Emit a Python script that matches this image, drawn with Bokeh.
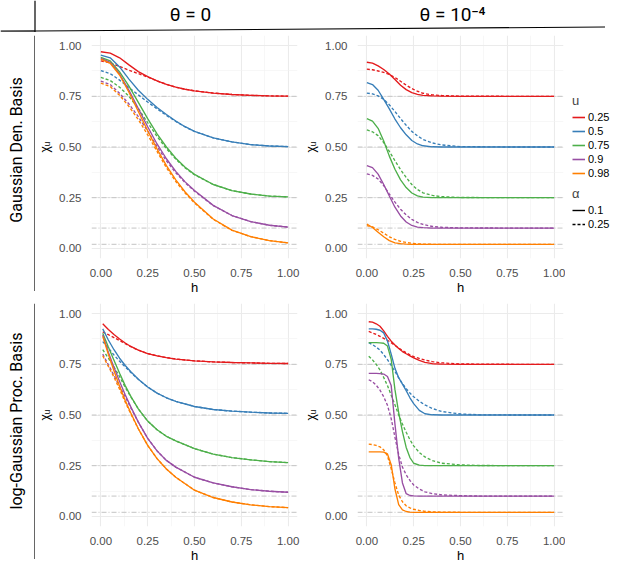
import numpy as np
from bokeh.plotting import figure
from bokeh.layouts import row, column
from bokeh.models import (Range1d, FixedTicker, NumeralTickFormatter, Span,
                          Legend, LegendItem)
from bokeh.core.properties import value
from bokeh.embed import file_html
from bokeh.resources import INLINE

# ---------------- data ----------------
u_labels = ["0.25", "0.5", "0.75", "0.9", "0.98"]
alpha_labels = ["0.1", "0.25"]
u_colors = ["#E41A1C", "#377EB8", "#4DAF4A", "#984EA3", "#FF7F00"]
ref_levels = [0.75, 0.5, 0.25, 0.1, 0.02]
col_titles = ["θ = 0", "θ = 10⁻⁴"]
row_titles = ["Gaussian Den. Basis", "log-Gaussian Proc. Basis"]
axis_ticks = [0, 0.25, 0.5, 0.75, 1.0]
axis_minor = [0.125, 0.375, 0.625, 0.875]

# Gaussian density basis, theta = 0
gd0_h = [0.0, 0.05, 0.1, 0.15, 0.2, 0.25, 0.3, 0.35, 0.4, 0.45, 0.5, 0.6, 0.7, 0.8, 0.9, 1.0]
gd0_s025 = [0.970, 0.963, 0.940, 0.905, 0.872, 0.847, 0.826, 0.809, 0.795, 0.785, 0.777, 0.766, 0.759, 0.755, 0.752, 0.751]
gd0_d025 = [0.925, 0.915, 0.897, 0.879, 0.862, 0.845, 0.826, 0.809, 0.795, 0.785, 0.777, 0.766, 0.759, 0.755, 0.752, 0.751]
gd0_s05 = [0.953, 0.940, 0.895, 0.835, 0.780, 0.735, 0.695, 0.660, 0.628, 0.600, 0.577, 0.545, 0.525, 0.512, 0.505, 0.502]
gd0_d05 = [0.877, 0.862, 0.830, 0.793, 0.757, 0.722, 0.688, 0.656, 0.626, 0.599, 0.577, 0.545, 0.525, 0.512, 0.505, 0.502]
gd0_s075 = [0.942, 0.925, 0.870, 0.800, 0.720, 0.640, 0.565, 0.500, 0.445, 0.400, 0.365, 0.315, 0.285, 0.268, 0.258, 0.254]
gd0_d075 = [0.843, 0.828, 0.795, 0.750, 0.690, 0.620, 0.552, 0.492, 0.440, 0.397, 0.363, 0.315, 0.285, 0.268, 0.258, 0.254]
gd0_s09 = [0.937, 0.918, 0.860, 0.780, 0.690, 0.600, 0.515, 0.442, 0.380, 0.328, 0.285, 0.212, 0.162, 0.132, 0.114, 0.105]
gd0_d09 = [0.825, 0.808, 0.765, 0.712, 0.650, 0.578, 0.502, 0.432, 0.373, 0.324, 0.282, 0.211, 0.162, 0.132, 0.114, 0.105]
gd0_s098 = [0.933, 0.913, 0.855, 0.770, 0.675, 0.580, 0.490, 0.408, 0.338, 0.278, 0.228, 0.145, 0.090, 0.058, 0.038, 0.027]
gd0_d098 = [0.815, 0.798, 0.755, 0.700, 0.635, 0.560, 0.478, 0.398, 0.330, 0.273, 0.224, 0.143, 0.089, 0.058, 0.038, 0.027]

# Gaussian density basis, theta = 1e-4
gd4_h = [0.0, 0.03, 0.06, 0.09, 0.12, 0.15, 0.18, 0.21, 0.24, 0.27, 0.3, 0.35, 0.4, 0.5, 0.75, 1.0]
gd4_s025 = [0.918, 0.914, 0.900, 0.882, 0.860, 0.833, 0.805, 0.783, 0.768, 0.760, 0.755, 0.752, 0.751, 0.750, 0.750, 0.750]
gd4_d025 = [0.884, 0.881, 0.875, 0.868, 0.858, 0.843, 0.824, 0.805, 0.788, 0.775, 0.765, 0.757, 0.754, 0.751, 0.750, 0.750]
gd4_s05 = [0.818, 0.808, 0.780, 0.735, 0.688, 0.638, 0.595, 0.560, 0.532, 0.515, 0.506, 0.501, 0.500, 0.500, 0.500, 0.500]
gd4_d05 = [0.766, 0.762, 0.752, 0.735, 0.708, 0.675, 0.640, 0.607, 0.577, 0.555, 0.537, 0.520, 0.510, 0.502, 0.500, 0.500]
gd4_s075 = [0.640, 0.628, 0.592, 0.530, 0.455, 0.390, 0.338, 0.300, 0.273, 0.259, 0.253, 0.250, 0.250, 0.250, 0.250, 0.250]
gd4_d075 = [0.584, 0.575, 0.556, 0.522, 0.478, 0.432, 0.388, 0.350, 0.315, 0.290, 0.274, 0.261, 0.255, 0.251, 0.250, 0.250]
gd4_s09 = [0.408, 0.398, 0.366, 0.315, 0.258, 0.203, 0.160, 0.130, 0.113, 0.105, 0.102, 0.100, 0.100, 0.100, 0.100, 0.100]
gd4_d09 = [0.367, 0.360, 0.342, 0.310, 0.268, 0.228, 0.193, 0.165, 0.143, 0.128, 0.118, 0.108, 0.104, 0.101, 0.100, 0.100]
gd4_s098 = [0.120, 0.103, 0.080, 0.057, 0.038, 0.027, 0.023, 0.021, 0.020, 0.020, 0.020, 0.020, 0.020, 0.020, 0.020, 0.020]
gd4_d098 = [0.112, 0.106, 0.092, 0.075, 0.057, 0.044, 0.035, 0.029, 0.025, 0.022, 0.021, 0.020, 0.020, 0.020, 0.020, 0.020]

# log-Gaussian process basis, theta = 0
lg0_h = [0.01, 0.04, 0.07, 0.1, 0.13, 0.16, 0.2, 0.25, 0.3, 0.35, 0.4, 0.5, 0.6, 0.7, 0.8, 0.9, 1.0]
lg0_s025 = [0.950, 0.922, 0.897, 0.875, 0.855, 0.838, 0.820, 0.803, 0.792, 0.783, 0.776, 0.767, 0.762, 0.759, 0.757, 0.755, 0.754]
lg0_d025 = [0.910, 0.896, 0.882, 0.867, 0.852, 0.837, 0.820, 0.803, 0.792, 0.783, 0.776, 0.767, 0.762, 0.759, 0.757, 0.755, 0.754]
lg0_s05 = [0.925, 0.870, 0.822, 0.780, 0.744, 0.713, 0.676, 0.638, 0.608, 0.585, 0.567, 0.542, 0.527, 0.519, 0.514, 0.510, 0.508]
lg0_d05 = [0.862, 0.830, 0.796, 0.765, 0.737, 0.710, 0.676, 0.638, 0.608, 0.585, 0.567, 0.542, 0.527, 0.519, 0.514, 0.510, 0.508]
lg0_s075 = [0.903, 0.835, 0.770, 0.706, 0.645, 0.592, 0.530, 0.470, 0.427, 0.395, 0.372, 0.334, 0.307, 0.290, 0.279, 0.270, 0.265]
lg0_d075 = [0.822, 0.780, 0.737, 0.689, 0.637, 0.589, 0.530, 0.470, 0.427, 0.395, 0.372, 0.334, 0.307, 0.290, 0.279, 0.270, 0.265]
lg0_s09 = [0.895, 0.810, 0.735, 0.665, 0.600, 0.540, 0.465, 0.385, 0.323, 0.276, 0.243, 0.193, 0.165, 0.146, 0.132, 0.124, 0.119]
lg0_d09 = [0.800, 0.748, 0.695, 0.642, 0.590, 0.535, 0.465, 0.385, 0.323, 0.276, 0.243, 0.193, 0.165, 0.146, 0.132, 0.124, 0.119]
lg0_s098 = [0.888, 0.800, 0.718, 0.642, 0.572, 0.510, 0.432, 0.350, 0.285, 0.234, 0.193, 0.129, 0.093, 0.071, 0.057, 0.048, 0.043]
lg0_d098 = [0.792, 0.740, 0.687, 0.627, 0.564, 0.505, 0.432, 0.350, 0.285, 0.234, 0.193, 0.129, 0.093, 0.071, 0.057, 0.048, 0.043]

# log-Gaussian process basis, theta = 1e-4
lg4_h = [0.01, 0.03, 0.05, 0.07, 0.09, 0.11, 0.13, 0.15, 0.17, 0.19, 0.21, 0.23, 0.25, 0.28, 0.31, 0.35, 0.4, 0.5, 0.6, 0.8, 1.0]
lg4_s025 = [0.960, 0.958, 0.950, 0.938, 0.915, 0.888, 0.864, 0.845, 0.828, 0.813, 0.802, 0.792, 0.782, 0.770, 0.760, 0.753, 0.751, 0.750, 0.750, 0.750, 0.750]
lg4_d025 = [0.912, 0.905, 0.897, 0.888, 0.878, 0.868, 0.857, 0.843, 0.830, 0.818, 0.807, 0.797, 0.788, 0.779, 0.771, 0.763, 0.757, 0.752, 0.751, 0.750, 0.750]
lg4_s05 = [0.925, 0.925, 0.923, 0.918, 0.905, 0.865, 0.800, 0.730, 0.684, 0.652, 0.620, 0.585, 0.556, 0.523, 0.506, 0.501, 0.500, 0.500, 0.500, 0.500, 0.500]
lg4_d05 = [0.857, 0.847, 0.835, 0.820, 0.798, 0.773, 0.745, 0.715, 0.683, 0.655, 0.630, 0.608, 0.590, 0.568, 0.550, 0.532, 0.517, 0.505, 0.501, 0.500, 0.500]
lg4_s075 = [0.857, 0.857, 0.857, 0.856, 0.854, 0.840, 0.775, 0.625, 0.512, 0.418, 0.340, 0.290, 0.262, 0.253, 0.250, 0.250, 0.250, 0.250, 0.250, 0.250, 0.250]
lg4_d075 = [0.790, 0.772, 0.750, 0.722, 0.685, 0.645, 0.598, 0.550, 0.500, 0.455, 0.415, 0.378, 0.348, 0.315, 0.293, 0.275, 0.262, 0.254, 0.251, 0.250, 0.250]
lg4_s09 = [0.705, 0.705, 0.705, 0.704, 0.702, 0.690, 0.645, 0.455, 0.286, 0.165, 0.112, 0.103, 0.101, 0.100, 0.100, 0.100, 0.100, 0.100, 0.100, 0.100, 0.100]
lg4_d09 = [0.674, 0.664, 0.647, 0.623, 0.590, 0.548, 0.482, 0.390, 0.305, 0.243, 0.205, 0.177, 0.155, 0.135, 0.121, 0.112, 0.106, 0.102, 0.100, 0.100, 0.100]
lg4_s098 = [0.318, 0.318, 0.318, 0.318, 0.317, 0.308, 0.255, 0.135, 0.058, 0.032, 0.024, 0.021, 0.020, 0.020, 0.020, 0.020, 0.020, 0.020, 0.020, 0.020, 0.020]
lg4_d098 = [0.356, 0.354, 0.350, 0.343, 0.328, 0.298, 0.235, 0.165, 0.105, 0.072, 0.052, 0.042, 0.035, 0.029, 0.025, 0.022, 0.021, 0.020, 0.020, 0.020, 0.020]

# ---------------- layout constants ----------------
STRIP_W = 35
FW, FH = 206, 223
B_LEFT = 52
B_RIGHT_1, B_RIGHT_2 = 4, 2
TOP_1, TOP_2 = 3, 6
BOTTOM = 33
HEADER_H = 32
TOTAL_W = 605
P1_W = B_LEFT + FW + B_RIGHT_1
P2_W = B_LEFT + FW + B_RIGHT_2
LEG_W = TOTAL_W - STRIP_W - P1_W - P2_W
ROW1_H = TOP_1 + FH + BOTTOM
ROW2_H = TOP_2 + FH + BOTTOM

TICK_FONT = "Liberation Sans"
TITLE_FONT = "Roboto"


def panel(h, solid, dashed, top_border, right_border):
    p = figure(frame_width=FW, frame_height=FH,
               x_range=Range1d(-0.05, 1.05), y_range=Range1d(-0.05, 1.05),
               output_backend="svg", toolbar_location=None,
               min_border_left=B_LEFT, min_border_right=right_border,
               min_border_top=top_border, min_border_bottom=BOTTOM,
               x_axis_label="h", y_axis_label="χᵤ")
    p.outline_line_color = None
    p.background_fill_color = "white"
    for ax in (p.xaxis[0], p.yaxis[0]):
        ax.ticker = FixedTicker(ticks=axis_ticks, minor_ticks=axis_minor)
        ax.formatter = NumeralTickFormatter(format="0.00")
        ax.axis_line_color = None
        ax.major_tick_line_color = None
        ax.minor_tick_line_color = None
        ax.major_label_text_font = TICK_FONT
        ax.major_label_text_font_size = "11.5px"
        ax.major_label_text_color = "#4D4D4D"
        ax.axis_label_text_font = TICK_FONT
        ax.axis_label_text_font_style = "normal"
        ax.axis_label_text_color = "black"
    p.xaxis.major_label_standoff = 4
    p.xaxis.axis_label_standoff = 0
    p.xaxis.axis_label_text_font_size = "13px"
    p.yaxis.major_label_standoff = 4
    p.yaxis.axis_label_standoff = 4
    p.yaxis.axis_label_text_font_size = "12px"
    for g in (p.xgrid[0], p.ygrid[0]):
        g.grid_line_color = "#EBEBEB"
        g.grid_line_width = 1.1
        g.minor_grid_line_color = "#F1F1F1"
        g.minor_grid_line_width = 0.6
    for lev in ref_levels:
        p.add_layout(Span(location=lev, dimension="width", line_color="#C4C4C4",
                          line_width=1.0, line_dash="5 2 1 2", level="underlay"))
    for c, ys in zip(u_colors, dashed):
        p.line(h, ys, line_color=c, line_width=1.35, line_dash="3 2")
    for c, ys in zip(u_colors, solid):
        p.line(h, ys, line_color=c, line_width=1.35)
    return p


def bare(width, height, x_range, y_range):
    f = figure(frame_width=width, frame_height=height,
               x_range=x_range, y_range=y_range,
               output_backend="svg", toolbar_location=None, min_border=0)
    f.axis.visible = False
    f.grid.visible = False
    f.outline_line_color = None
    return f


# panels
p_tl = panel(gd0_h, [gd0_s025, gd0_s05, gd0_s075, gd0_s09, gd0_s098],
             [gd0_d025, gd0_d05, gd0_d075, gd0_d09, gd0_d098], TOP_1, B_RIGHT_1)
p_tr = panel(gd4_h, [gd4_s025, gd4_s05, gd4_s075, gd4_s09, gd4_s098],
             [gd4_d025, gd4_d05, gd4_d075, gd4_d09, gd4_d098], TOP_1, B_RIGHT_2)
p_bl = panel(lg0_h, [lg0_s025, lg0_s05, lg0_s075, lg0_s09, lg0_s098],
             [lg0_d025, lg0_d05, lg0_d075, lg0_d09, lg0_d098], TOP_2, B_RIGHT_1)
p_br = panel(lg4_h, [lg4_s025, lg4_s05, lg4_s075, lg4_s09, lg4_s098],
             [lg4_d025, lg4_d05, lg4_d075, lg4_d09, lg4_d098], TOP_2, B_RIGHT_2)

# header
header = bare(TOTAL_W, HEADER_H, Range1d(0, TOTAL_W), Range1d(0, HEADER_H))
centers = [STRIP_W + B_LEFT + FW / 2, STRIP_W + P1_W + B_LEFT + FW / 2]
header.text(x=centers, y=[HEADER_H * 0.55] * 2, text=col_titles,
            text_align="center", text_baseline="middle",
            text_font=value(TITLE_FONT), text_font_size="19px", text_color="black")
header.segment(x0=[0], y0=[1.2], x1=[STRIP_W - 0.5], y1=[1.5],
               line_color="#555555", line_width=2)
header.segment(x0=[STRIP_W - 0.5], y0=[1.5], x1=[TOTAL_W], y1=[5.5],
               line_color="black", line_width=1.1)
header.add_layout(Span(location=STRIP_W - 0.5, dimension="height",
                       line_color="black", line_width=1.2))

# strips
strips = []
for title, hgt, top in zip(row_titles, [ROW1_H, ROW2_H], [TOP_1, TOP_2]):
    s = bare(STRIP_W, hgt, Range1d(0, STRIP_W), Range1d(0, hgt))
    s.text(x=[STRIP_W * 0.47], y=[hgt - top - FH / 2], text=[title], angle=np.pi / 2,
           text_align="center", text_baseline="middle",
           text_font=value(TITLE_FONT), text_font_size="16px", text_color="black")
    s.add_layout(Span(location=STRIP_W - 0.5, dimension="height",
                      line_color="black", line_width=1.2))
    strips.append(s)

# legend figure: key renderers use the panel data but sit outside the visible y range
lf = bare(LEG_W, ROW1_H, Range1d(0, 1), Range1d(5, 6))
u_items = []
for c, lab, ys in zip(u_colors, u_labels, [gd4_s025, gd4_s05, gd4_s075, gd4_s09, gd4_s098]):
    r = lf.line(gd4_h, ys, line_color=c, line_width=1.6)
    u_items.append(LegendItem(label=lab, renderers=[r]))
a_items = []
for dash, lab, ys in zip(["solid", "3 2"], alpha_labels, [gd4_s025, gd4_d025]):
    r = lf.line(gd4_h, ys, line_color="black", line_width=1.4, line_dash=dash)
    a_items.append(LegendItem(label=lab, renderers=[r]))


def make_legend(items, title, loc):
    return Legend(items=items, title=title, location=loc,
                  border_line_color=None, background_fill_alpha=0,
                  padding=0, margin=0, spacing=0,
                  label_height=14, glyph_height=14, glyph_width=13,
                  label_standoff=3, label_text_font=TICK_FONT,
                  label_text_font_size="11px", label_text_color="black",
                  title_text_font=TICK_FONT, title_text_font_size="13px",
                  title_text_font_style="normal", title_standoff=2)


lf.add_layout(make_legend(u_items, "u", (7, ROW1_H - 148)))
lf.add_layout(make_legend(a_items, "α", (7, ROW1_H - 199)))

layout = column(header,
                row(strips[0], p_tl, p_tr, lf),
                row(strips[1], p_bl, p_br))

open("out.html", "w").write(file_html(layout, INLINE))
